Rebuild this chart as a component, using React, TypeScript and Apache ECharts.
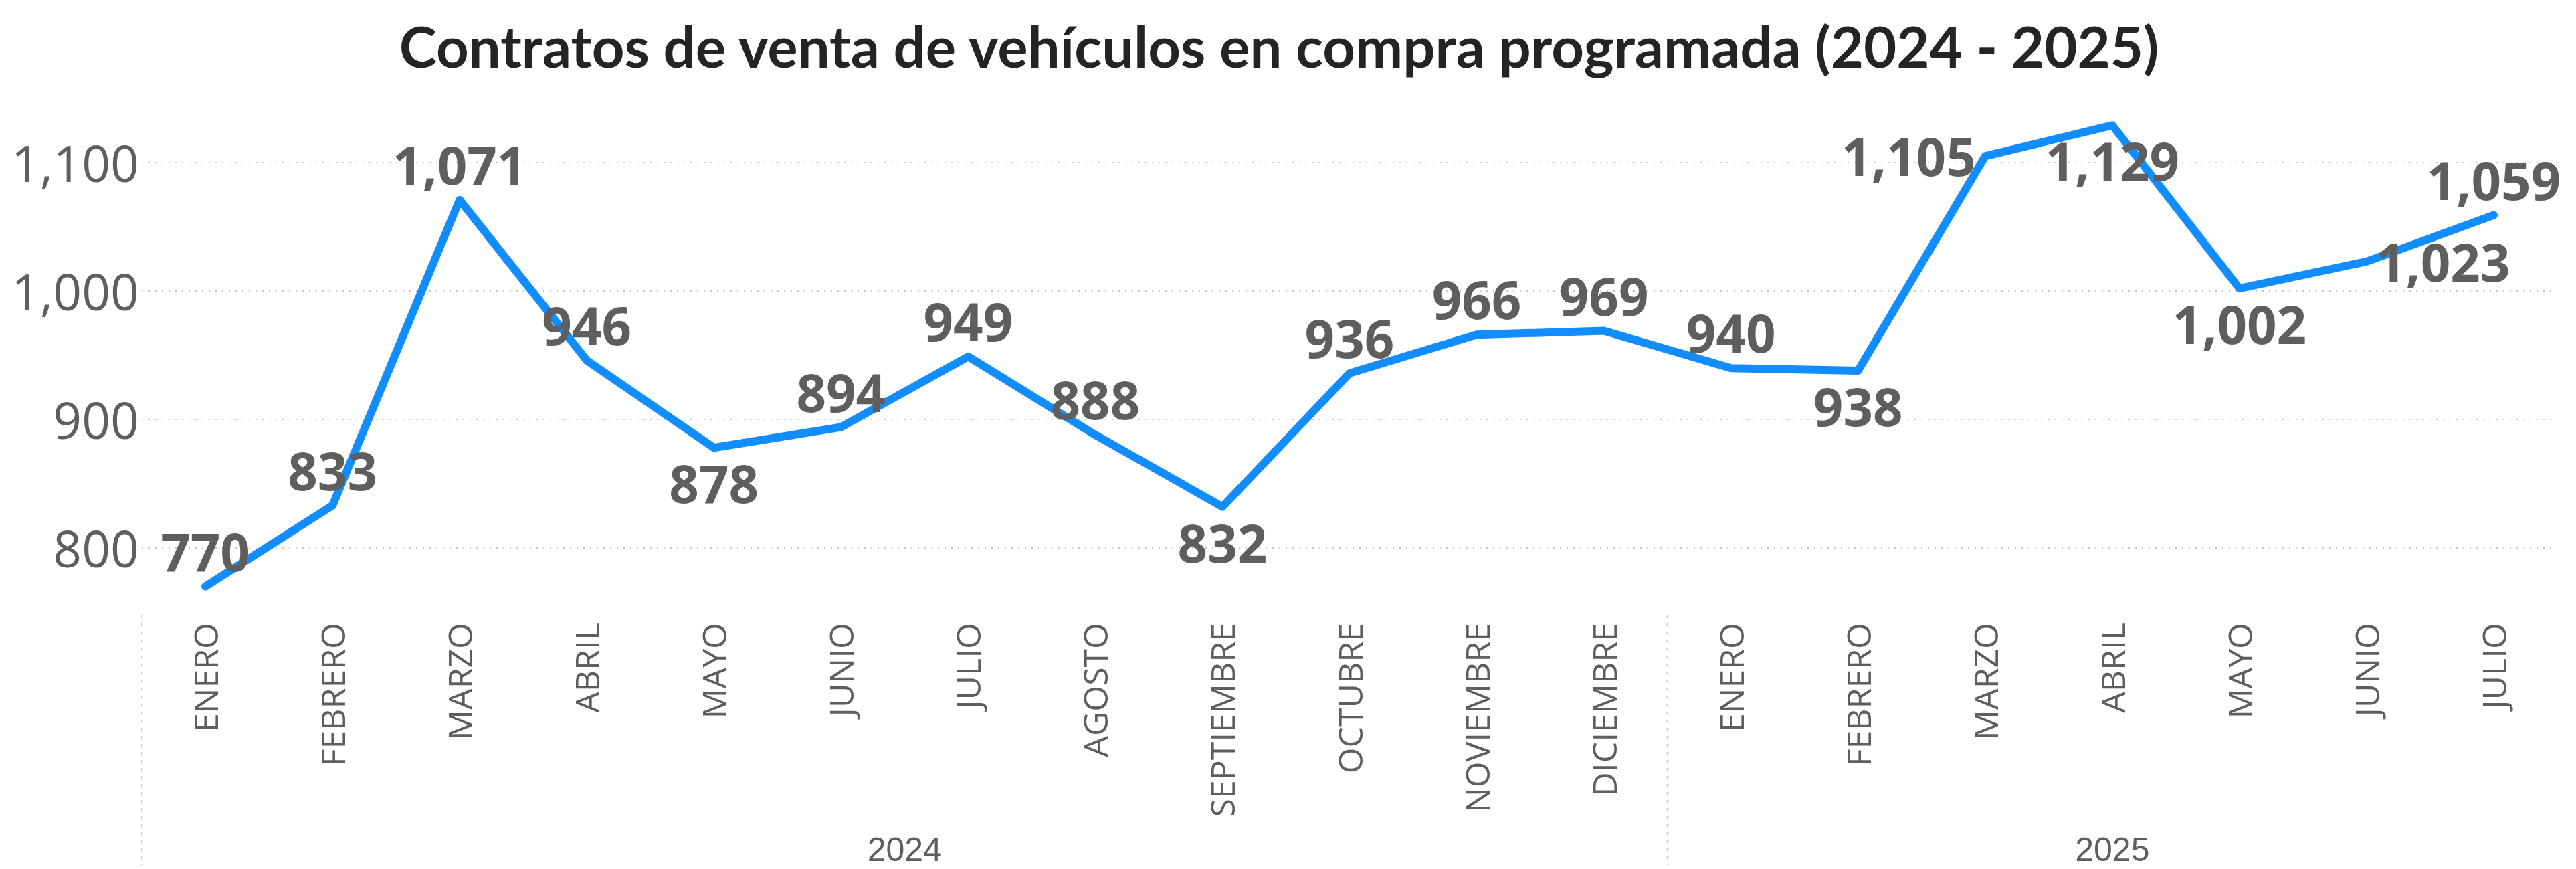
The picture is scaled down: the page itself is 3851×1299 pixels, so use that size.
import React, { useEffect, useRef } from 'react';
import * as echarts from 'echarts';

const months = [
  'ENERO', 'FEBRERO', 'MARZO', 'ABRIL', 'MAYO', 'JUNIO', 'JULIO', 'AGOSTO', 'SEPTIEMBRE',
  'OCTUBRE', 'NOVIEMBRE', 'DICIEMBRE',
  'ENERO', 'FEBRERO', 'MARZO', 'ABRIL', 'MAYO', 'JUNIO', 'JULIO',
];
const values = [770, 833, 1071, 946, 878, 894, 949, 888, 832, 936, 966, 969, 940, 938, 1105, 1129, 1002, 1023, 1059];
const years = ['2024', '2025'];
const yearStart = [0, 12];
const yearEnd = [11, 18];
const yTicks = [800, 900, 1000, 1100];

const labelPositions = [
  'top', 'top', 'top', 'top', 'bottom', 'top', 'top', 'top', 'bottom', 'top', 'top', 'top',
  'top', 'bottom', 'left', 'bottom', 'bottom', 'right', 'top',
];
const labelShift: Record<number, number[]> = { 18: [-28, 0], 14: [6, 0], 17: [-4, 0] };

const TITLE = 'Contratos de venta de vehículos en compra programada (2024 - 2025)';
const GREY = '#605E5C';
const FONT = '"Segoe UI", "Open Sans", sans-serif';

export default function App() {
  const ref = useRef<HTMLDivElement>(null);

  useEffect(() => {
    if (!ref.current) return;
    const chart = echarts.init(ref.current, null, { renderer: 'svg' });
    const option: any = {
      animation: false,
      backgroundColor: '#ffffff',
      title: {
        text: TITLE,
        left: 1907,
        top: 20,
        textAlign: 'center',
        textStyle: { fontSize: 85, fontWeight: 'bold', color: '#252423', fontFamily: '"Segoe UI", Lato, sans-serif' },
      },
      grid: { left: 212, right: 28, top: 147, bottom: 384, containLabel: false },
      xAxis: {
        type: 'category',
        data: months,
        boundaryGap: true,
        axisLine: { show: false },
        axisTick: { show: false },
        axisLabel: { rotate: 90, interval: 0, fontSize: 50, color: GREY, margin: 16, fontFamily: FONT },
      },
      yAxis: {
        type: 'value',
        min: 750,
        max: 1150,
        interval: 50,
        splitLine: { show: false },
        axisLine: { show: false },
        axisTick: { show: false },
        axisLabel: {
          fontSize: 75,
          color: GREY,
          margin: 4,
          fontFamily: FONT,
          formatter: (v: number) => (v % 100 === 0 ? v.toLocaleString('en-US') : ''),
        },
      },
      series: [
        {
          type: 'line',
          data: values.map((v, i) => ({
            value: v,
            label: { position: labelPositions[i], offset: labelShift[i] || [0, 0] },
          })),
          showSymbol: true,
          symbol: 'circle',
          symbolSize: 2,
          lineStyle: { color: '#118DFF', width: 12, cap: 'round', join: 'round' },
          itemStyle: { color: '#118DFF', borderWidth: 0 },
          label: {
            show: true,
            fontSize: 78,
            fontWeight: 'bold',
            color: GREY,
            fontFamily: FONT,
            distance: 13,
            formatter: (p: any) => Number(p.value).toLocaleString('en-US'),
          },
          labelLayout: { hideOverlap: false },
          markLine: {
            silent: true,
            symbol: 'none',
            label: { show: false },
            lineStyle: { type: [2, 8], color: '#C8C6C4', width: 2 },
            data: yTicks.map((v) => ({ yAxis: v })),
            z: 1,
          },
          z: 3,
        },
      ],
    };
    chart.setOption(option);

    const px = (i: number) => chart.convertToPixel({ xAxisIndex: 0 }, i) as number;
    const band = px(1) - px(0);
    const graphics: any[] = [];
    years.forEach((y, k) => {
      const cx = (px(yearStart[k]) + px(yearEnd[k])) / 2;
      graphics.push({
        type: 'text',
        x: cx,
        y: 1270,
        style: { text: y, fontSize: 50, fill: GREY, font: `50px ${FONT}`, textAlign: 'center', textVerticalAlign: 'middle' },
      });
      const sx = px(yearStart[k]) - band / 2;
      graphics.push({
        type: 'line',
        shape: { x1: sx, y1: 920, x2: sx, y2: 1293 },
        style: { stroke: '#C8C6C4', lineWidth: 2, lineDash: [4, 8] },
      });
    });
    chart.setOption({ graphic: graphics });

    return () => chart.dispose();
  }, []);

  return <div ref={ref} style={{ position: 'absolute', left: 0, top: 0, width: 3851, height: 1299 }} />;
}
